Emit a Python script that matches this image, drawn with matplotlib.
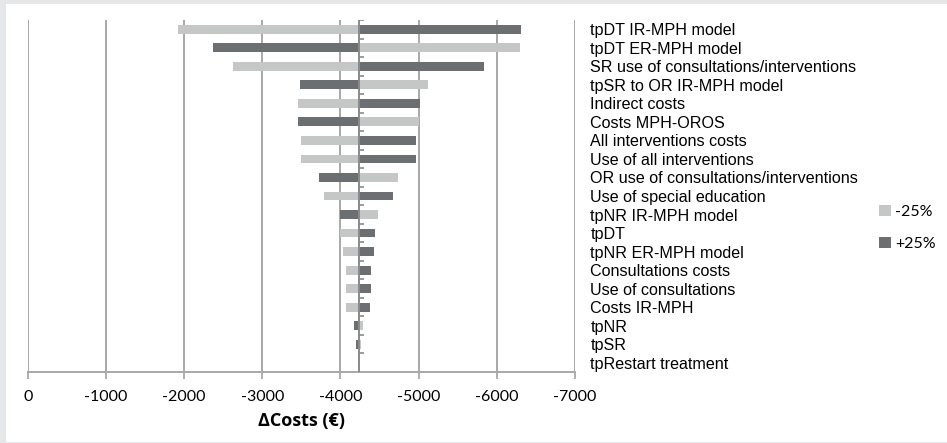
import matplotlib
matplotlib.use("Agg")
import matplotlib.pyplot as plt
from matplotlib.patches import Rectangle, Patch

categories = [
    "tpDT IR-MPH model",
    "tpDT ER-MPH model",
    "SR use of consultations/interventions",
    "tpSR to OR IR-MPH model",
    "Indirect costs",
    "Costs MPH-OROS",
    "All interventions costs",
    "Use of all interventions",
    "OR use of consultations/interventions",
    "Use of special education",
    "tpNR IR-MPH model",
    "tpDT",
    "tpNR ER-MPH model",
    "Consultations costs",
    "Use of consultations",
    "Costs IR-MPH",
    "tpNR",
    "tpSR",
    "tpRestart treatment",
]
base_cost = -4233
minus25 = [-1926, -6295, -2630, -5122, -3451, -5005, -3500, -3500, -4736, -3788,
           -4482, -3998, -4037, -4071, -4071, -4076, -4286, -4262, -4233]
plus25 = [-6305, -2370, -5836, -3480, -5015, -3451, -4966, -4966, -3729, -4677,
          -3988, -4443, -4423, -4389, -4389, -4384, -4179, -4198, -4233]
xticks = [0, -1000, -2000, -3000, -4000, -5000, -6000, -7000]
series_labels = ["-25%", "+25%"]

light = "#c5c6c6"
dark = "#6c6f72"
grid_c = "#a8a8a8"

fig = plt.figure(figsize=(9.47, 4.43), dpi=100)
fig.patch.set_facecolor("#e6e7e8")
fig.patches.append(Rectangle((6 / 947, 1 / 443), 1, 1 - 5 / 443, transform=fig.transFigure,
                             facecolor="white", edgecolor="none", zorder=-5))

ax = fig.add_axes([27.7 / 947, 1 - 372 / 443, (575 - 27.7) / 947, (372 - 20) / 443])
ax.set_facecolor("none")

n = len(categories)
ys = [n - 1 - i for i in range(n)]
h = 0.48
ax.barh(ys, [m - base_cost for m in minus25], left=base_cost, height=h, color=light, zorder=3)
ax.barh(ys, [p - base_cost for p in plus25], left=base_cost, height=h, color=dark, zorder=3)

ax.set_xlim(0, -7000)
ax.set_ylim(-0.5, n - 0.5)
ax.set_xticks(xticks)
ax.set_xticklabels([str(v) for v in xticks], fontfamily="Lato", fontsize=11.5)
ax.tick_params(axis="x", length=5, width=1.3, color=grid_c, pad=8)
ax.xaxis.grid(True, color=grid_c, linewidth=1.4, zorder=1)
ax.set_axisbelow(True)

ax.set_yticks(ys)
ax.set_yticklabels(categories, fontfamily="Liberation Sans", fontsize=11.6)
ax.tick_params(axis="y", length=0, labelleft=False, labelright=True, pad=11)

for s in ["top", "left", "right"]:
    ax.spines[s].set_visible(False)
ax.spines["bottom"].set_color(grid_c)
ax.spines["bottom"].set_linewidth(1.4)

# category axis at base cost with small tick marks between rows
ax.axvline(base_cost, color="#8a8a8a", linewidth=1.4, zorder=4)
bounds = [y + 0.5 for y in range(-1, n)]
ax.hlines(bounds[1:], base_cost, base_cost - 70, color="#8a8a8a", linewidth=1.2, zorder=4)

ax.set_xlabel("\u0394Costs (\u20ac)", fontfamily="Open Sans", fontweight="bold", fontsize=13, labelpad=6)

handles = [Patch(facecolor=light), Patch(facecolor=dark)]
leg = fig.legend(handles, series_labels, loc="center left", bbox_to_anchor=(865 / 947, 1 - 228 / 443),
                 frameon=False, handlelength=0.7, handleheight=0.7, handletextpad=0.3,
                 labelspacing=1.15, prop={"family": "Lato", "size": 11.5})

fig.savefig("out.png", dpi=100, facecolor=fig.get_facecolor())
